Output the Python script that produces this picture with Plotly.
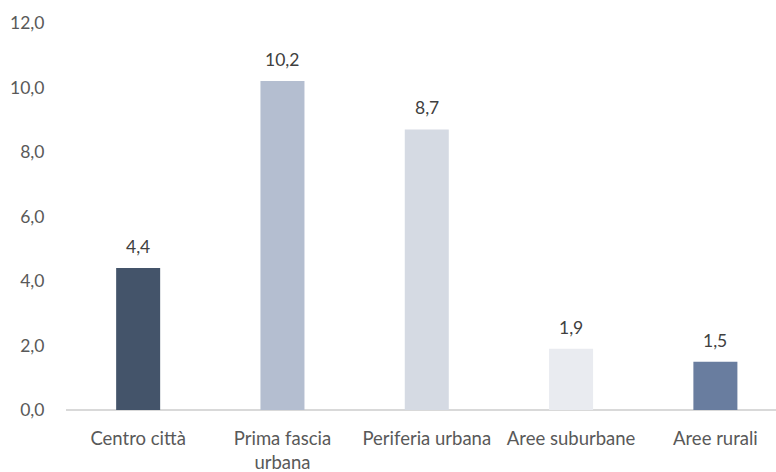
import plotly.graph_objects as go

categories = ["Centro città", "Prima fascia<br>urbana", "Periferia urbana", "Aree suburbane", "Aree rurali"]
values = [4.4, 10.2, 8.7, 1.9, 1.5]
bar_colors = ["#44546A", "#B4BED0", "#D5DAE3", "#E9EBF0", "#697D9F"]
y_ticks = [0, 2, 4, 6, 8, 10, 12]

FONT = "Lato, 'Open Sans', sans-serif"
x_pos = list(range(len(categories)))

fig = go.Figure(
    go.Bar(
        x=x_pos,
        y=values,
        marker=dict(color=bar_colors, line=dict(width=0)),
        width=0.305,
        hoverinfo="skip",
    )
)

# value labels above each bar
for xi, v in zip(x_pos, values):
    fig.add_annotation(
        x=xi, y=v,
        text=f"{v:.1f}".replace(".", ","),
        showarrow=False,
        yanchor="bottom",
        yshift=9,
        font=dict(family=FONT, size=17.5, color="#404040"),
    )

fig.update_layout(
    width=776,
    height=472,
    margin=dict(l=66, r=0, t=23, b=62),
    paper_bgcolor="white",
    plot_bgcolor="white",
    showlegend=False,
    separators=",.",
    xaxis=dict(
        range=[-0.5, 4.42],
        tickvals=x_pos,
        ticktext=categories,
        showgrid=False,
        zeroline=False,
        showline=False,
        ticks="outside",
        ticklen=12,
        tickcolor="rgba(0,0,0,0)",
        tickfont=dict(family=FONT, size=18.5, color="#595959"),
    ),
    yaxis=dict(
        range=[0, 12],
        tickvals=y_ticks,
        tickformat=".1f",
        showgrid=False,
        zeroline=True,
        zerolinecolor="#D9D9D9",
        zerolinewidth=1.5,
        showline=False,
        ticks="outside",
        ticklen=17,
        tickcolor="rgba(0,0,0,0)",
        tickfont=dict(family=FONT, size=17.5, color="#595959"),
    ),
)

fig.write_html("out.html")
